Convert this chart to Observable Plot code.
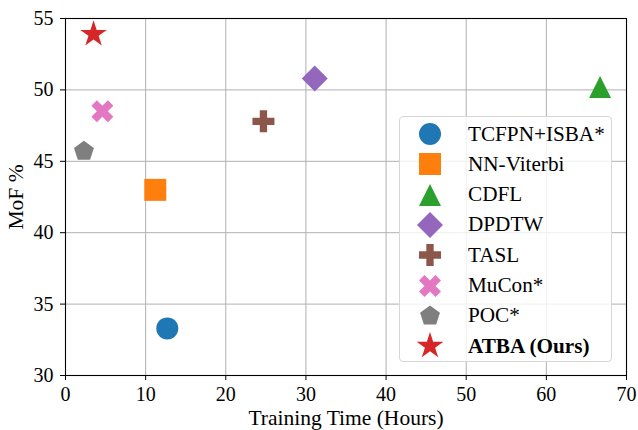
<!DOCTYPE html>
<html>
<head>
<meta charset="utf-8">
<script src="https://cdn.jsdelivr.net/npm/d3@7"></script>
<script src="https://cdn.jsdelivr.net/npm/@observablehq/plot@0.6"></script>
<style>
  html, body { margin: 0; padding: 0; background: #fff; }
  #wrap { position: relative; width: 638px; height: 430px; font-family: "Liberation Serif", "Times New Roman", serif; }
  #legend { position: absolute; left: 399px; top: 116px; width: 213px; height: 246px;
    background: rgba(255,255,255,0.8); border: 1px solid #d6d6d6; border-radius: 4px; box-sizing: border-box; }
  .row { position: absolute; left: 0; height: 30px; display: flex; align-items: center; }
  .row svg { width: 60px; height: 30px; overflow: visible; }
  .row span { font-size: 21.2px; color: #000; margin-left: 8px; }
</style>
</head>
<body>
<div id="wrap"></div>
<script>
// ---- data ----
const methods = ["TCFPN+ISBA*", "NN-Viterbi", "CDFL", "DPDTW", "TASL", "MuCon*", "POC*", "ATBA (Ours)"];
const trainingHours = [12.7, 11.2, 66.7, 31.1, 24.7, 4.6, 2.3, 3.5];
const mofPercent = [33.3, 43.0, 50.2, 50.8, 47.8, 48.5, 45.7, 53.9];
const methodColors = ["#1f77b4", "#ff7f0e", "#2ca02c", "#9467bd", "#8c564b", "#e377c2", "#7f7f7f", "#d62728"];
const xTicks = [0, 10, 20, 30, 40, 50, 60, 70];
const yTicks = [30, 35, 40, 45, 50, 55];
const oursName = "ATBA (Ours)";

// ---- custom marker shapes (matplotlib-like) ----
const rOf = size => Math.sqrt(size / Math.PI);
function poly(ctx, pts) { ctx.moveTo(pts[0][0], pts[0][1]); for (let i = 1; i < pts.length; i++) ctx.lineTo(pts[i][0], pts[i][1]); ctx.closePath(); }
function rot(pts, a) { const c = Math.cos(a), s = Math.sin(a); return pts.map(([x, y]) => [x * c - y * s, x * s + y * c]); }
function plusPts(L) { const w = L / 3; return [[w,-L],[w,-w],[L,-w],[L,w],[w,w],[w,L],[-w,L],[-w,w],[-L,w],[-L,-w],[-w,-w],[-w,-L]]; }
const symCircle = d3.symbolCircle;
const symSquare = { draw(ctx, size) { const r = rOf(size); poly(ctx, [[-r,-r],[r,-r],[r,r],[-r,r]]); } };
const symTriangle = { draw(ctx, size) { const r = rOf(size); poly(ctx, [[0,-r],[r,r],[-r,r]]); } };
const symDiamond = { draw(ctx, size) { const r = rOf(size) * 1.18; poly(ctx, [[0,-r],[r,0],[0,r],[-r,0]]); } };
const symPlus = { draw(ctx, size) { poly(ctx, plusPts(rOf(size))); } };
const symX = { draw(ctx, size) { poly(ctx, rot(plusPts(rOf(size) * 1.06), Math.PI / 4)); } };
const symPentagon = { draw(ctx, size) { const r = rOf(size) * 0.95; const p = []; for (let i = 0; i < 5; i++) { const a = -Math.PI / 2 + i * 2 * Math.PI / 5; p.push([r * Math.cos(a), r * Math.sin(a)]); } poly(ctx, p); } };
const symStar = { draw(ctx, size) { const R = rOf(size), ri = R * 0.381966; const p = []; for (let i = 0; i < 10; i++) { const a = -Math.PI / 2 + i * Math.PI / 5; const rr = i % 2 ? ri : R; p.push([rr * Math.cos(a), rr * Math.sin(a)]); } poly(ctx, p); } };
const methodSymbols = [symCircle, symSquare, symTriangle, symDiamond, symPlus, symX, symPentagon, symStar];

const rows = methods.map((m, i) => ({ method: m, hours: trainingHours[i], mof: mofPercent[i] }));
const others = rows.filter(d => d.method !== oursName);
const ours = rows.filter(d => d.method === oursName);

const chart = Plot.plot({
  width: 638,
  height: 430,
  marginLeft: 65,
  marginRight: 12,
  marginTop: 18,
  marginBottom: 55,
  style: { fontFamily: "Liberation Serif, Times New Roman, serif", fontSize: "20px", background: "transparent", color: "#000" },
  x: { domain: [0, 70] },
  y: { domain: [30, 55] },
  color: { domain: methods, range: methodColors },
  symbol: { domain: methods, range: methodSymbols },
  marks: [
    Plot.gridX(xTicks, { stroke: "#b0b0b0", strokeOpacity: 1, strokeWidth: 1 }),
    Plot.gridY(yTicks, { stroke: "#b0b0b0", strokeOpacity: 1, strokeWidth: 1 }),
    Plot.frame({ stroke: "#000", strokeWidth: 1.1 }),
    Plot.axisX(xTicks, { tickSize: 5, tickPadding: 6, label: "Training Time (Hours)", labelAnchor: "center", labelArrow: "none", labelOffset: 49, fontSize: 20 }),
    Plot.axisY(yTicks, { tickSize: 5, tickPadding: 7, label: "MoF %", labelAnchor: "center", labelArrow: "none", labelOffset: 58, fontSize: 20 }),
    Plot.dot(others, { x: "hours", y: "mof", symbol: "method", fill: "method", r: 11, stroke: "none" }),
    Plot.dot(ours, { x: "hours", y: "mof", symbol: "method", fill: "method", r: 14, stroke: "none" })
  ]
});

const wrap = document.getElementById("wrap");
wrap.appendChild(chart);
// axis titles slightly larger than tick labels
chart.querySelectorAll('g[aria-label="x-axis label"] text, g[aria-label="y-axis label"] text')
  .forEach(t => { t.setAttribute("font-size", "21.5"); t.style.fontSize = "21.5px"; });

// ---- legend ----
const legend = document.createElement("div");
legend.id = "legend";
wrap.appendChild(legend);
methods.forEach((m, i) => {
  const row = document.createElement("div");
  row.className = "row";
  row.style.top = (2 + i * 30.3) + "px";
  const size = m === oursName ? Math.PI * 14 * 14 : Math.PI * 11 * 11;
  const path = d3.symbol(methodSymbols[i], size)();
  row.innerHTML = `<svg><path transform="translate(30,15)" d="${path}" fill="${methodColors[i]}"></path></svg>`;
  const span = document.createElement("span");
  span.textContent = m;
  if (m === oursName) span.style.fontWeight = "bold";
  row.appendChild(span);
  legend.appendChild(row);
});
</script>
</body>
</html>
